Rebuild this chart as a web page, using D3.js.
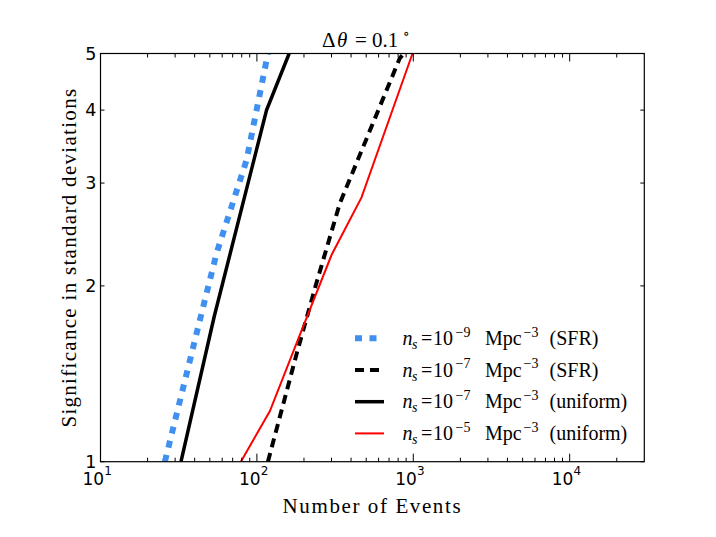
<!DOCTYPE html>
<html>
<head>
<meta charset="utf-8">
<script src="https://cdn.jsdelivr.net/npm/d3@7"></script>
<style>
  body { margin: 0; background: #fff; }
  svg { display: block; }
  .serif { font-family: "Liberation Serif", "DejaVu Serif", serif; }
  .sans { font-family: "DejaVu Sans", sans-serif; }
</style>
</head>
<body>
<div id="chart"></div>
<script>
// Events needed vs significance
const blueSfr9X = [25.8, 43.2, 55.3, 85.9, 102, 117.6];
const blueSfr9Y = [1, 1.748, 2.277, 3.286, 4.134, 5];

const dashSfr7X = [117.6, 180.1, 238.2, 339.2, 819.6, 870];
const dashSfr7Y = [1, 1.535, 2.007, 2.770, 4.908, 5];

const solidUni7X = [32.7, 53.3, 115.3, 160.8];
const solidUni7Y = [1, 1.771, 4.0, 5];

const redUni5X = [79.0, 121.1, 182.8, 300, 466.7, 988.6];
const redUni5Y = [1, 1.221, 1.616, 2.259, 2.835, 5];

const xMajor = [10, 100, 1000, 10000];
const xMajorExp = ['1', '2', '3', '4'];
const yTicks = [1, 2, 3, 4, 5];

const legendExp = ['\u22129', '\u22127', '\u22127', '\u22125'];
const legendTail = ['(SFR)', '(SFR)', '(uniform)', '(uniform)'];

const W = 716, H = 537;
const m = { left: 100.5, right: 644.3, top: 53.5, bottom: 461.7 };

const svg = d3.select('#chart').append('svg')
    .attr('width', W)
    .attr('height', H);

svg.append('rect').attr('width', W).attr('height', H).attr('fill', '#fff');

const x = d3.scaleLog().domain([10, 30000]).range([m.left, m.right]);
const y = d3.scaleLog().domain([1, 5]).range([m.bottom, m.top]);

const series = [
    { xs: blueSfr9X, ys: blueSfr9Y, color: '#4090f0', width: 6, dash: '7,7.5' },
    { xs: dashSfr7X, ys: dashSfr7Y, color: '#000', width: 4, dash: '9,6' },
    { xs: solidUni7X, ys: solidUni7Y, color: '#000', width: 3.5, dash: null },
    { xs: redUni5X, ys: redUni5Y, color: '#ff0000', width: 2, dash: null }
];

svg.append('clipPath').attr('id', 'plotClip')
    .append('rect')
    .attr('x', m.left).attr('y', m.top)
    .attr('width', m.right - m.left).attr('height', m.bottom - m.top);

const line = d3.line()
    .x(d => x(d[0]))
    .y(d => y(d[1]));

const plot = svg.append('g').attr('clip-path', 'url(#plotClip)');

series.forEach(s => {
    plot.append('path')
        .datum(s.xs.map((v, i) => [v, s.ys[i]]))
        .attr('d', line)
        .attr('fill', 'none')
        .attr('stroke', s.color)
        .attr('stroke-width', s.width)
        .attr('stroke-dasharray', s.dash);
});

// ticks, inward on all four sides
const ticks = svg.append('g').attr('stroke', '#000').attr('stroke-width', 1);

const xMinor = [];
for (let e = 1; e <= 4; e++) {
    for (let k = 2; k <= 9; k++) {
        const v = k * Math.pow(10, e);
        if (v < 30000) xMinor.push(v);
    }
}

xMajor.forEach(v => {
    ticks.append('line').attr('x1', x(v)).attr('x2', x(v)).attr('y1', m.bottom).attr('y2', m.bottom - 8);
    ticks.append('line').attr('x1', x(v)).attr('x2', x(v)).attr('y1', m.top).attr('y2', m.top + 8);
});
xMinor.forEach(v => {
    ticks.append('line').attr('x1', x(v)).attr('x2', x(v)).attr('y1', m.bottom).attr('y2', m.bottom - 4);
    ticks.append('line').attr('x1', x(v)).attr('x2', x(v)).attr('y1', m.top).attr('y2', m.top + 4);
});
yTicks.forEach(v => {
    ticks.append('line').attr('x1', m.left).attr('x2', m.left + 4).attr('y1', y(v)).attr('y2', y(v));
    ticks.append('line').attr('x1', m.right).attr('x2', m.right - 4).attr('y1', y(v)).attr('y2', y(v));
});

svg.append('rect')
    .attr('x', m.left).attr('y', m.top)
    .attr('width', m.right - m.left).attr('height', m.bottom - m.top)
    .attr('fill', 'none')
    .attr('stroke', '#000')
    .attr('stroke-width', 1.2);

// tick labels
xMajor.forEach((v, i) => {
    const t = svg.append('text')
        .attr('class', 'sans')
        .attr('y', 484.5)
        .attr('font-size', 17);
    t.append('tspan').attr('x', x(v) - 18).text('10');
    t.append('tspan').attr('x', x(v) + 3.8).attr('dy', -10).attr('font-size', 12).text(xMajorExp[i]);
});

yTicks.forEach(v => {
    svg.append('text')
        .attr('class', 'sans')
        .attr('x', m.left - 4)
        .attr('y', y(v) + 6)
        .attr('text-anchor', 'end')
        .attr('font-size', 17.5)
        .text(v);
});

// axis labels and title
svg.append('text')
    .attr('class', 'serif')
    .attr('x', (m.left + m.right) / 2)
    .attr('y', 512.5)
    .attr('text-anchor', 'middle')
    .attr('font-size', 21)
    .attr('letter-spacing', 1.6)
    .text('Number of Events');

svg.append('text')
    .attr('class', 'serif')
    .attr('transform', `translate(75.5,${(m.top + m.bottom) / 2}) rotate(-90)`)
    .attr('text-anchor', 'middle')
    .attr('font-size', 21)
    .attr('letter-spacing', 1.3)
    .text('Significance in standard deviations');

const title = svg.append('text')
    .attr('class', 'serif')
    .attr('y', 46.7)
    .attr('font-size', 21);
title.append('tspan').attr('x', 322).text('\u0394');
title.append('tspan').attr('x', 337).attr('font-style', 'italic').text('\u03b8');
title.append('tspan').attr('x', 355).text('=');
title.append('tspan').attr('x', 372).text('0.1');
title.append('tspan').attr('x', 403).attr('dy', -9).attr('font-size', 14).text('\u2218');

// legend, no frame
const legend = svg.append('g');
series.forEach((s, i) => {
    const ly = 338.3 + i * 31.7;
    legend.append('line')
        .attr('x1', 355).attr('x2', 384)
        .attr('y1', ly).attr('y2', ly)
        .attr('stroke', s.color)
        .attr('stroke-width', s.width)
        .attr('stroke-dasharray', s.dash);
    const t = legend.append('text')
        .attr('class', 'serif')
        .attr('y', ly + 6.7)
        .attr('font-size', 20);
    t.append('tspan').attr('x', 402.5).attr('font-style', 'italic').text('n');
    t.append('tspan').attr('x', 412).attr('dy', 4).attr('font-size', 14).attr('font-style', 'italic').text('s');
    t.append('tspan').attr('x', 421).attr('dy', -4).text('=');
    t.append('tspan').attr('x', 433).text('10');
    t.append('tspan').attr('x', 455.5).attr('dy', -8.5).attr('font-size', 14).text(legendExp[i]);
    t.append('tspan').attr('x', 485).attr('dy', 8.5).text('Mpc');
    t.append('tspan').attr('x', 523.5).attr('dy', -8.5).attr('font-size', 14).text('\u22123');
    t.append('tspan').attr('x', 549.5).attr('dy', 8.5).text(legendTail[i]);
});
</script>
</body>
</html>
